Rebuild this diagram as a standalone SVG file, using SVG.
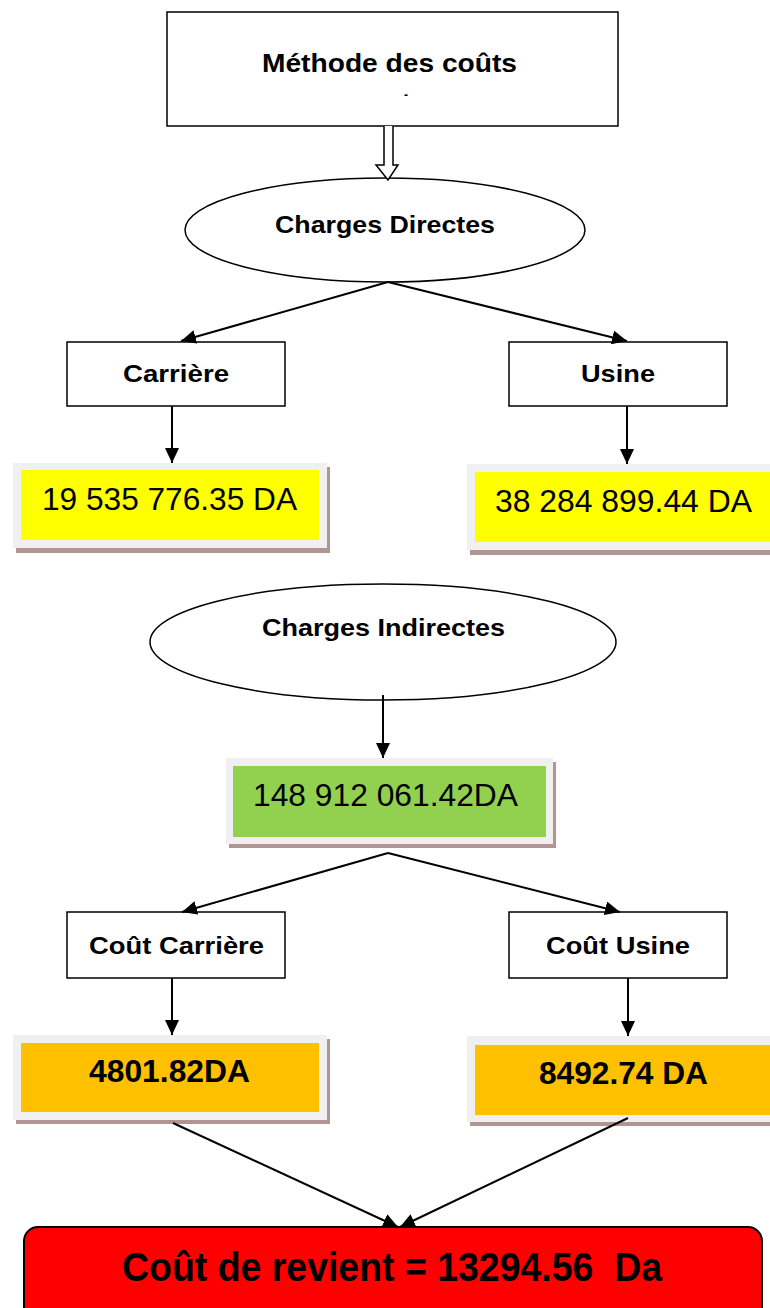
<svg xmlns="http://www.w3.org/2000/svg" width="770" height="1308" viewBox="0 0 770 1308">
<style>
.box{fill:#fff;stroke:#000;stroke-width:1.5}
.ell{fill:#fff;stroke:#000;stroke-width:1.5}
.lbl{font-family:"Liberation Sans",Arial,sans-serif;font-weight:bold;fill:#000}
.num{font-family:"Liberation Sans",Arial,sans-serif;font-size:31px;fill:#000}
.frame{fill:#f0f0f0}
.shadow{fill:#b39494}
.con{stroke:#000;stroke-width:2;fill:none}
</style>
<defs>
<marker id="ah" markerUnits="userSpaceOnUse" markerWidth="16" markerHeight="14" refX="15" refY="7" orient="auto">
<path d="M0,0 L15,7 L0,14 Z" fill="#000"/>
</marker>
</defs>
<rect width="770" height="1308" fill="#fff"/>

<g id="methode">
<rect class="box" x="167" y="12" width="451" height="114"/>
<text class="lbl" x="262" y="72" font-size="25" textLength="255" lengthAdjust="spacingAndGlyphs">Méthode des coûts</text>
<text class="lbl" x="404" y="99" font-size="12" font-weight="normal">-</text>
</g>

<g id="charges-directes">
<ellipse class="ell" cx="385" cy="230" rx="200" ry="52"/>
<text class="lbl" x="275" y="233" font-size="24" textLength="220" lengthAdjust="spacingAndGlyphs">Charges Directes</text>
</g>

<g id="carriere">
<rect class="box" x="67" y="342" width="218" height="64"/>
<text class="lbl" x="123" y="382" font-size="24" textLength="106" lengthAdjust="spacingAndGlyphs">Carrière</text>
</g>

<g id="usine">
<rect class="box" x="509" y="342" width="218" height="64"/>
<text class="lbl" x="581" y="382" font-size="24" textLength="74" lengthAdjust="spacingAndGlyphs">Usine</text>
</g>

<g id="val-carriere">
<rect class="shadow" x="16" y="467" width="314" height="86"/>
<rect class="frame" x="13" y="463" width="314" height="85"/>
<rect x="21" y="470" width="298" height="70" fill="#ffff00"/>
<text class="num" x="42" y="510" textLength="255" lengthAdjust="spacingAndGlyphs">19 535 776.35 DA</text>
</g>

<g id="val-usine">
<rect class="shadow" x="470" y="468" width="300" height="87"/>
<rect class="frame" x="467" y="464" width="303" height="86"/>
<rect x="475" y="472" width="295" height="70" fill="#ffff00"/>
<text class="num" x="495" y="512" textLength="257" lengthAdjust="spacingAndGlyphs">38 284 899.44 DA</text>
</g>

<g id="charges-indirectes">
<ellipse class="ell" cx="383" cy="642" rx="233" ry="58"/>
<text class="lbl" x="262" y="636" font-size="24" textLength="243" lengthAdjust="spacingAndGlyphs">Charges Indirectes</text>
</g>

<g id="val-indirectes">
<rect class="shadow" x="229" y="762" width="327" height="86"/>
<rect class="frame" x="226" y="758" width="327" height="86"/>
<rect x="233" y="766" width="313" height="71" fill="#92d050"/>
<text class="num" x="253" y="806" textLength="265" lengthAdjust="spacingAndGlyphs">148 912 061.42DA</text>
</g>

<g id="cout-carriere">
<rect class="box" x="67" y="912" width="218" height="66"/>
<text class="lbl" x="89" y="954" font-size="24" textLength="175" lengthAdjust="spacingAndGlyphs">Coût Carrière</text>
</g>

<g id="cout-usine">
<rect class="box" x="509" y="912" width="218" height="66"/>
<text class="lbl" x="546" y="954" font-size="24" textLength="144" lengthAdjust="spacingAndGlyphs">Coût Usine</text>
</g>

<g id="val-cout-carriere">
<rect class="shadow" x="16" y="1039" width="314" height="85"/>
<rect class="frame" x="13" y="1035" width="314" height="85"/>
<rect x="21" y="1043" width="298" height="69" fill="#ffc000"/>
<text class="num" x="89" y="1082" font-weight="bold" textLength="161" lengthAdjust="spacingAndGlyphs">4801.82DA</text>
</g>

<g id="val-cout-usine">
<rect class="shadow" x="470" y="1040" width="300" height="86"/>
<rect class="frame" x="467" y="1036" width="303" height="86"/>
<rect x="475" y="1045" width="295" height="70" fill="#ffc000"/>
<text class="num" x="539" y="1084" font-weight="bold" textLength="169" lengthAdjust="spacingAndGlyphs">8492.74 DA</text>
</g>

<g id="cout-revient">
<rect x="24" y="1227" width="738" height="100" rx="14" fill="#ff0000" stroke="#000" stroke-width="2"/>
<text class="lbl" x="122" y="1281" font-size="40" xml:space="preserve" textLength="540" lengthAdjust="spacingAndGlyphs">Coût de revient = 13294.56  Da</text>
</g>

<g id="connectors">
<path d="M384,126 V165 H376 L388,180 L398,165 H393 V126" fill="#fff" stroke="#000" stroke-width="1.5"/>
<line class="con" x1="388" y1="282" x2="181" y2="341" marker-end="url(#ah)"/>
<line class="con" x1="388" y1="282" x2="627" y2="341" marker-end="url(#ah)"/>
<line class="con" x1="172" y1="406" x2="172" y2="463" marker-end="url(#ah)"/>
<line class="con" x1="627" y1="406" x2="627" y2="464" marker-end="url(#ah)"/>
<line class="con" x1="383" y1="695" x2="383" y2="758" marker-end="url(#ah)"/>
<line class="con" x1="388" y1="853" x2="182" y2="912" marker-end="url(#ah)"/>
<line class="con" x1="388" y1="853" x2="620" y2="912" marker-end="url(#ah)"/>
<line class="con" x1="172" y1="978" x2="172" y2="1035" marker-end="url(#ah)"/>
<line class="con" x1="628" y1="978" x2="628" y2="1036" marker-end="url(#ah)"/>
<line class="con" x1="173" y1="1123" x2="398" y2="1227" marker-end="url(#ah)"/>
<line class="con" x1="628" y1="1118" x2="400" y2="1227" marker-end="url(#ah)"/>
</g>
</svg>
